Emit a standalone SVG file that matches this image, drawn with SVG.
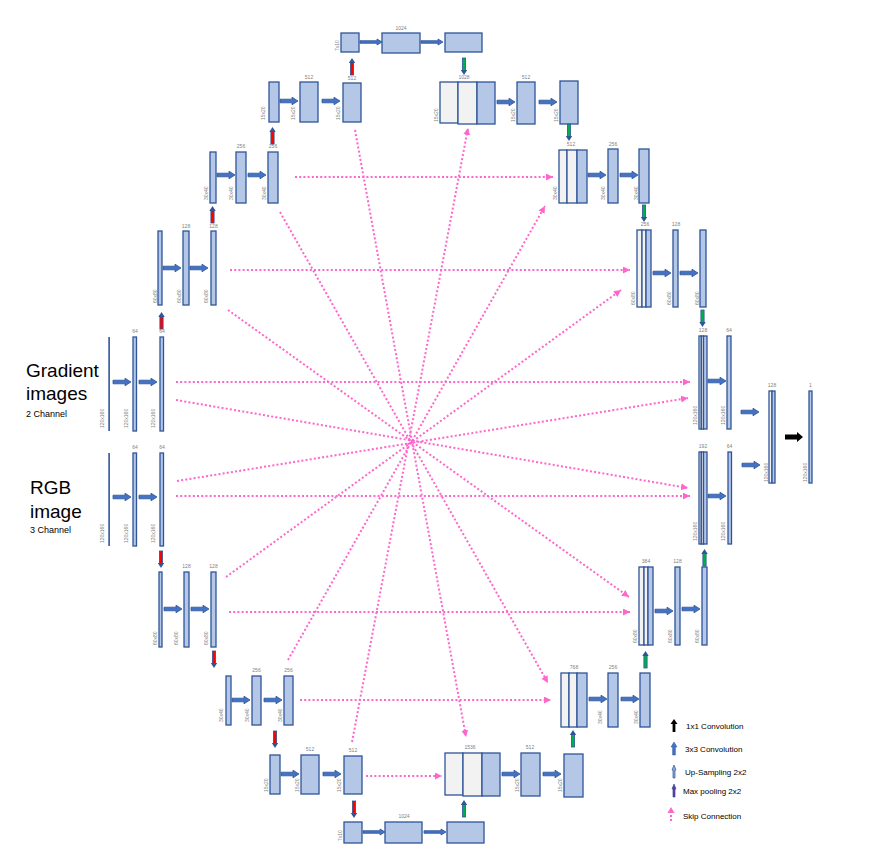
<svg xmlns="http://www.w3.org/2000/svg" xmlns:xlink="http://www.w3.org/1999/xlink" width="896" height="858" viewBox="0 0 896 858">
<style>
.b{fill:#B4C7E7;stroke:#2F5597;stroke-width:1.3}
.g{fill:#F2F2F2;stroke:#2F5597;stroke-width:1.3}
.t{font-family:"Liberation Sans",Arial,sans-serif;font-size:5px;fill:#7F7F7F}
.tc{font-family:"Liberation Sans",Arial,sans-serif;font-size:5px;fill:#7F7F7F;text-anchor:middle}
.big{font-family:"Liberation Sans",Arial,sans-serif;font-size:19px;fill:#000}
.sm{font-family:"Liberation Sans",Arial,sans-serif;font-size:9px;fill:#000}
.lg{font-family:"Liberation Sans",Arial,sans-serif;font-size:8px;fill:#000}
.sk{fill:none;stroke:#FF66CC;stroke-width:2;stroke-dasharray:2 2.2;marker-end:url(#pk)}
</style>
<defs>
<marker id="pk" markerUnits="userSpaceOnUse" markerWidth="8" markerHeight="8" refX="7" refY="3.5" orient="auto"><path d="M0,0 L7,3.5 L0,7 Z" fill="#FF66CC"/></marker>
<path id="ha" d="M0,-1.8 H12 V-3.8 L18,0 L12,3.8 V1.8 H0 Z" fill="#4472C4" stroke="#2F5597" stroke-width="0.8"/>
<path id="ha22" d="M0,-1.3 H17 V-3 L22,0 L17,3 V1.3 H0 Z" fill="#4472C4" stroke="#2F5597" stroke-width="0.8"/>
<path id="hk" d="M0,-2.4 H12 V-5 L18,0 L12,5 V2.4 H0 Z" fill="#000"/>
<g id="vr"><rect x="-1.6" y="4" width="3.2" height="13" fill="#FF0000" stroke="#2F5597" stroke-width="0.8"/><path d="M-3.2,5 L0,0 L3.2,5 Z" fill="#2F5597"/></g>
<g id="vg"><rect x="-1.6" y="4" width="3.2" height="13" fill="#00B050" stroke="#2F5597" stroke-width="0.8"/><path d="M-3.2,5 L0,0 L3.2,5 Z" fill="#2F5597"/></g>
</defs>
<rect width="896" height="858" fill="#fff"/>

<g id="gradient-label">
<text class="big" x="26" y="377">Gradient</text>
<text class="big" x="26" y="400">images</text>
<text class="sm" x="26" y="417">2 Channel</text>
</g>
<g id="rgb-label">
<text class="big" x="30" y="494">RGB</text>
<text class="big" x="30" y="518">image</text>
<text class="sm" x="30" y="533">3 Channel</text>
</g>

<g id="grad-enc-1">
<rect x="108.3" y="337" width="1.6" height="94" fill="#2F5597"/>
<text class="t" transform="translate(103.5,428) rotate(-90)">120x160</text>
<rect class="b" x="133" y="337" width="3.5" height="94"/>
<text class="tc" x="135" y="333">64</text>
<text class="t" transform="translate(128,428) rotate(-90)">120x160</text>
<rect class="b" x="160" y="337" width="3.5" height="94"/>
<text class="tc" x="162" y="333">64</text>
<text class="t" transform="translate(155,428) rotate(-90)">120x160</text>
</g>
<g id="grad-enc-2">
<rect class="b" x="158" y="231" width="4" height="74"/>
<text class="t" transform="translate(156.5,303) rotate(-90)">60x80</text>
<rect class="b" x="183" y="231" width="6" height="74"/>
<text class="tc" x="186" y="228">128</text>
<text class="t" transform="translate(181,303) rotate(-90)">60x80</text>
<rect class="b" x="211" y="231" width="5" height="74"/>
<text class="tc" x="213.5" y="228">128</text>
<text class="t" transform="translate(208,303) rotate(-90)">60x80</text>
</g>
<g id="grad-enc-3">
<rect class="b" x="210" y="152" width="6" height="51"/>
<text class="t" transform="translate(208,200) rotate(-90)">30x40</text>
<rect class="b" x="236" y="152" width="10" height="51"/>
<text class="tc" x="241" y="148">256</text>
<text class="t" transform="translate(233,200) rotate(-90)">30x40</text>
<rect class="b" x="268" y="152" width="10" height="51"/>
<text class="tc" x="273" y="148">256</text>
<text class="t" transform="translate(266,200) rotate(-90)">30x40</text>
</g>
<g id="grad-enc-4">
<rect class="b" x="269" y="82" width="10" height="40"/>
<text class="t" transform="translate(264.5,120) rotate(-90)">15x20</text>
<rect class="b" x="300" y="82" width="18" height="40"/>
<text class="tc" x="309" y="79">512</text>
<text class="t" transform="translate(295,120) rotate(-90)">15x20</text>
<rect class="b" x="343" y="83" width="18" height="39"/>
<text class="tc" x="352" y="80">512</text>
<text class="t" transform="translate(340,120) rotate(-90)">15x20</text>
</g>
<g id="grad-bottleneck">
<rect class="b" x="341" y="33" width="18" height="19"/>
<text class="t" transform="translate(339,51) rotate(-90)">7x10</text>
<rect class="b" x="382" y="33" width="38" height="20"/>
<text class="tc" x="401" y="30">1024</text>
<rect class="b" x="445" y="33" width="37" height="19"/>
</g>

<g id="top-dec-4">
<rect class="g" x="440" y="82" width="18" height="41"/>
<rect class="g" x="458" y="82" width="19" height="42"/>
<rect class="b" x="477" y="82" width="18" height="42"/>
<text class="tc" x="464" y="79">1028</text>
<text class="t" transform="translate(437.5,122) rotate(-90)">15x20</text>
<rect class="b" x="517" y="82" width="18" height="42"/>
<text class="tc" x="526" y="79">512</text>
<text class="t" transform="translate(515,122) rotate(-90)">15x20</text>
<rect class="b" x="560" y="81" width="18" height="43"/>
<text class="t" transform="translate(557.5,122) rotate(-90)">15x20</text>
</g>
<g id="top-dec-3">
<rect class="g" x="559" y="150" width="8" height="53"/>
<rect class="g" x="567" y="150" width="10" height="53"/>
<rect class="b" x="577" y="150" width="10" height="53"/>
<text class="tc" x="571" y="146">512</text>
<text class="t" transform="translate(556.5,200) rotate(-90)">30x40</text>
<rect class="b" x="608" y="149" width="10" height="54"/>
<text class="tc" x="613" y="146">256</text>
<text class="t" transform="translate(605,200) rotate(-90)">30x40</text>
<rect class="b" x="639" y="149" width="10" height="54"/>
<text class="t" transform="translate(638,200) rotate(-90)">30x40</text>
</g>
<g id="top-dec-2">
<rect class="g" x="637" y="230" width="5" height="77"/>
<rect class="g" x="642" y="230" width="4" height="77"/>
<rect class="b" x="646" y="230" width="5" height="77"/>
<text class="tc" x="645" y="226">256</text>
<text class="t" transform="translate(635,305) rotate(-90)">60x80</text>
<rect class="b" x="673" y="230" width="5" height="77"/>
<text class="tc" x="676" y="226">128</text>
<text class="t" transform="translate(671,305) rotate(-90)">60x80</text>
<rect class="b" x="700" y="230" width="6" height="77"/>
<text class="t" transform="translate(699,305) rotate(-90)">60x80</text>
</g>
<g id="top-dec-1">
<rect class="g" x="699" y="336" width="2.3" height="93"/>
<rect class="g" x="701.3" y="336" width="2.2" height="93"/>
<rect class="b" x="703.5" y="336" width="3.5" height="93"/>
<text class="tc" x="703" y="332">128</text>
<text class="t" transform="translate(696.5,425) rotate(-90)">120x160</text>
<rect class="b" x="727" y="336" width="4" height="93"/>
<text class="tc" x="729" y="332">64</text>
<text class="t" transform="translate(725,425) rotate(-90)">120x160</text>
</g>

<g id="output-concat">
<rect class="g" x="769" y="391" width="3" height="92"/>
<rect class="b" x="772" y="391" width="3" height="92"/>
<text class="tc" x="772" y="387">128</text>
<text class="t" transform="translate(767.5,482) rotate(-90)">120x160</text>
</g>
<g id="output">
<rect class="b" x="809" y="391" width="3" height="92"/>
<text class="tc" x="810.5" y="387">1</text>
<text class="t" transform="translate(806.5,482) rotate(-90)">120x160</text>
</g>

<g id="bot-dec-1">
<rect class="g" x="699" y="452" width="2.3" height="92"/>
<rect class="g" x="701.3" y="452" width="2.2" height="92"/>
<rect class="b" x="703.5" y="452" width="3.5" height="92"/>
<text class="tc" x="703" y="448">192</text>
<text class="t" transform="translate(696.5,541) rotate(-90)">120x160</text>
<rect class="b" x="728" y="452" width="3.5" height="92"/>
<text class="tc" x="729.5" y="448">64</text>
<text class="t" transform="translate(725,541) rotate(-90)">120x160</text>
</g>
<g id="bot-dec-2">
<rect class="g" x="639" y="567" width="5" height="78"/>
<rect class="g" x="644" y="567" width="4" height="78"/>
<rect class="b" x="648" y="567" width="5" height="78"/>
<text class="tc" x="646" y="563">384</text>
<text class="t" transform="translate(637,643) rotate(-90)">60x80</text>
<rect class="b" x="675" y="567" width="5" height="78"/>
<text class="tc" x="677.5" y="563">128</text>
<text class="t" transform="translate(672,643) rotate(-90)">60x80</text>
<rect class="b" x="702" y="567" width="5" height="78"/>
<text class="t" transform="translate(699,643) rotate(-90)">60x80</text>
</g>
<g id="bot-dec-3">
<rect class="g" x="561" y="673" width="8" height="54"/>
<rect class="g" x="569" y="673" width="8" height="54"/>
<rect class="b" x="577" y="673" width="10" height="54"/>
<text class="tc" x="574" y="669">768</text>
<rect class="b" x="608" y="673" width="10" height="54"/>
<text class="tc" x="613" y="669">256</text>
<text class="t" transform="translate(602,724) rotate(-90)">30x40</text>
<rect class="b" x="640" y="673" width="10" height="54"/>
<text class="t" transform="translate(638,724) rotate(-90)">30x40</text>
</g>
<g id="bot-dec-4">
<rect class="g" x="445" y="753" width="18" height="42"/>
<rect class="g" x="463" y="753" width="19" height="43"/>
<rect class="b" x="482" y="753" width="18" height="43"/>
<text class="tc" x="470" y="749">1536</text>
<rect class="b" x="521" y="753" width="19" height="43"/>
<text class="tc" x="530" y="749">512</text>
<text class="t" transform="translate(519,792) rotate(-90)">15x20</text>
<rect class="b" x="564" y="754" width="19" height="43"/>
<text class="t" transform="translate(562,792) rotate(-90)">15x20</text>
</g>
<g id="rgb-bottleneck">
<rect class="b" x="344" y="822" width="18" height="21"/>
<text class="t" transform="translate(342,841) rotate(-90)">7x10</text>
<rect class="b" x="385" y="822" width="37" height="21"/>
<text class="tc" x="404" y="818">1024</text>
<rect class="b" x="447" y="822" width="37" height="21"/>
</g>

<g id="rgb-enc-1">
<rect x="108.3" y="453" width="1.6" height="93" fill="#2F5597"/>
<text class="t" transform="translate(103.5,543) rotate(-90)">120x160</text>
<rect class="b" x="133" y="453" width="3.5" height="93"/>
<text class="tc" x="135" y="449">64</text>
<text class="t" transform="translate(128,543) rotate(-90)">120x160</text>
<rect class="b" x="160" y="453" width="3.5" height="93"/>
<text class="tc" x="162" y="449">64</text>
<text class="t" transform="translate(155,543) rotate(-90)">120x160</text>
</g>
<g id="rgb-enc-2">
<rect class="b" x="159" y="572" width="3" height="75"/>
<text class="t" transform="translate(157,645) rotate(-90)">60x80</text>
<rect class="b" x="184" y="572" width="5" height="75"/>
<text class="tc" x="186.5" y="568">128</text>
<text class="t" transform="translate(178,645) rotate(-90)">60x80</text>
<rect class="b" x="211" y="572" width="5" height="75"/>
<text class="tc" x="213.5" y="568">128</text>
<text class="t" transform="translate(208,645) rotate(-90)">60x80</text>
</g>
<g id="rgb-enc-3">
<rect class="b" x="226" y="676" width="5" height="49"/>
<text class="t" transform="translate(223,722) rotate(-90)">30x40</text>
<rect class="b" x="252" y="676" width="9" height="49"/>
<text class="tc" x="256.5" y="672">256</text>
<text class="t" transform="translate(249,722) rotate(-90)">30x40</text>
<rect class="b" x="284" y="676" width="9" height="49"/>
<text class="tc" x="288.5" y="672">256</text>
<text class="t" transform="translate(282,722) rotate(-90)">30x40</text>
</g>
<g id="rgb-enc-4">
<rect class="b" x="270" y="755" width="10" height="39"/>
<text class="t" transform="translate(268,792) rotate(-90)">15x20</text>
<rect class="b" x="301" y="755" width="18" height="39"/>
<text class="tc" x="310" y="751">512</text>
<text class="t" transform="translate(299,792) rotate(-90)">15x20</text>
<rect class="b" x="344" y="756" width="18" height="38"/>
<text class="tc" x="353" y="752">512</text>
<text class="t" transform="translate(341,792) rotate(-90)">15x20</text>
</g>

<g id="connectors">
<path class="sk" d="M295,177 H553"/>
<path class="sk" d="M280,212 L548,683"/>
<path class="sk" d="M230,270 H630"/>
<path class="sk" d="M228,310 L629,597"/>
<path class="sk" d="M176,382 H690"/>
<path class="sk" d="M176,400 L688,488"/>
<path class="sk" d="M177,481 L688,398"/>
<path class="sk" d="M176,496 H690"/>
<path class="sk" d="M226,577 L621,290"/>
<path class="sk" d="M229,612 H630"/>
<path class="sk" d="M288,660 L545,206"/>
<path class="sk" d="M300,700 H551"/>
<path class="sk" d="M355,130 L466,737"/>
<path class="sk" d="M352,742 L468,128"/>
<path class="sk" d="M366,776 H442"/>

<use xlink:href="#ha" transform="translate(113,382)"/>
<use xlink:href="#ha" transform="translate(139,382)"/>
<use xlink:href="#ha" transform="translate(113,497)"/>
<use xlink:href="#ha" transform="translate(139,497)"/>
<use xlink:href="#ha" transform="translate(163,268)"/>
<use xlink:href="#ha" transform="translate(190,268)"/>
<use xlink:href="#ha" transform="translate(217,175)"/>
<use xlink:href="#ha" transform="translate(248,175)"/>
<use xlink:href="#ha" transform="translate(280,101)"/>
<use xlink:href="#ha" transform="translate(322,101)"/>
<use xlink:href="#ha22" transform="translate(360,42)"/>
<use xlink:href="#ha22" transform="translate(421,42)"/>
<use xlink:href="#ha" transform="translate(497,102)"/>
<use xlink:href="#ha" transform="translate(539,102)"/>
<use xlink:href="#ha" transform="translate(588,175)"/>
<use xlink:href="#ha" transform="translate(620,175)"/>
<use xlink:href="#ha" transform="translate(653,273)"/>
<use xlink:href="#ha" transform="translate(680,273)"/>
<use xlink:href="#ha" transform="translate(708,381)"/>
<use xlink:href="#ha" transform="translate(741,412)"/>
<use xlink:href="#ha" transform="translate(708,496)"/>
<use xlink:href="#ha" transform="translate(742,465)"/>
<use xlink:href="#hk" transform="translate(785,437)"/>
<use xlink:href="#ha" transform="translate(655,611)"/>
<use xlink:href="#ha" transform="translate(682,609)"/>
<use xlink:href="#ha" transform="translate(589,699)"/>
<use xlink:href="#ha" transform="translate(621,699)"/>
<use xlink:href="#ha" transform="translate(502,774)"/>
<use xlink:href="#ha" transform="translate(543,774)"/>
<use xlink:href="#ha22" transform="translate(363,832)"/>
<use xlink:href="#ha22" transform="translate(424,832)"/>
<use xlink:href="#ha" transform="translate(164,609)"/>
<use xlink:href="#ha" transform="translate(191,609)"/>
<use xlink:href="#ha" transform="translate(232,700)"/>
<use xlink:href="#ha" transform="translate(264,700)"/>
<use xlink:href="#ha" transform="translate(281,774)"/>
<use xlink:href="#ha" transform="translate(323,774)"/>

<use xlink:href="#vr" transform="translate(161.5,312)"/>
<use xlink:href="#vr" transform="translate(212.5,206)"/>
<use xlink:href="#vr" transform="translate(272.5,127)"/>
<use xlink:href="#vr" transform="translate(352,58)"/>
<use xlink:href="#vr" transform="translate(161,568) rotate(180)"/>
<use xlink:href="#vr" transform="translate(214,668) rotate(180)"/>
<use xlink:href="#vr" transform="translate(275,748) rotate(180)"/>
<use xlink:href="#vr" transform="translate(354,818) rotate(180)"/>

<use xlink:href="#vg" transform="translate(464,75) rotate(180)"/>
<use xlink:href="#vg" transform="translate(569,141) rotate(180)"/>
<use xlink:href="#vg" transform="translate(644,222) rotate(180)"/>
<use xlink:href="#vg" transform="translate(702.5,327) rotate(180)"/>
<use xlink:href="#vg" transform="translate(464,800)"/>
<use xlink:href="#vg" transform="translate(573,730)"/>
<use xlink:href="#vg" transform="translate(645.5,651)"/>
<use xlink:href="#vg" transform="translate(704.5,549)"/>
</g>

<g id="legend">
<path d="M672.6,732 V724 H670.5 L674,719 L677.5,724 H675.4 V732 Z" fill="#000"/>
<text class="lg" x="686" y="729">1x1 Convolution</text>
<path d="M672.6,755 V747 H671 L674,742 L677,747 H675.4 V755 Z" fill="#4472C4" stroke="#2F5597" stroke-width="0.5"/>
<text class="lg" x="685" y="752">3x3 Convolution</text>
<path d="M673,778 V770 H672 L674,765 L676,770 H675 V778 Z" fill="#8FAADC" stroke="#2F5597" stroke-width="0.7"/>
<text class="lg" x="685" y="775">Up-Sampling 2x2</text>
<path d="M673,797 V789 H672 L674,784 L676,789 H675 V797 Z" fill="#7030A0" stroke="#2F5597" stroke-width="0.7"/>
<text class="lg" x="683" y="794">Max pooling 2x2</text>
<path d="M671,821 V813" fill="none" stroke="#FF66CC" stroke-width="2" stroke-dasharray="2 2"/>
<path d="M667.5,813 L671,807 L674.5,813 Z" fill="#FF66CC"/>
<text class="lg" x="683" y="819">Skip Connection</text>
</g>
</svg>
